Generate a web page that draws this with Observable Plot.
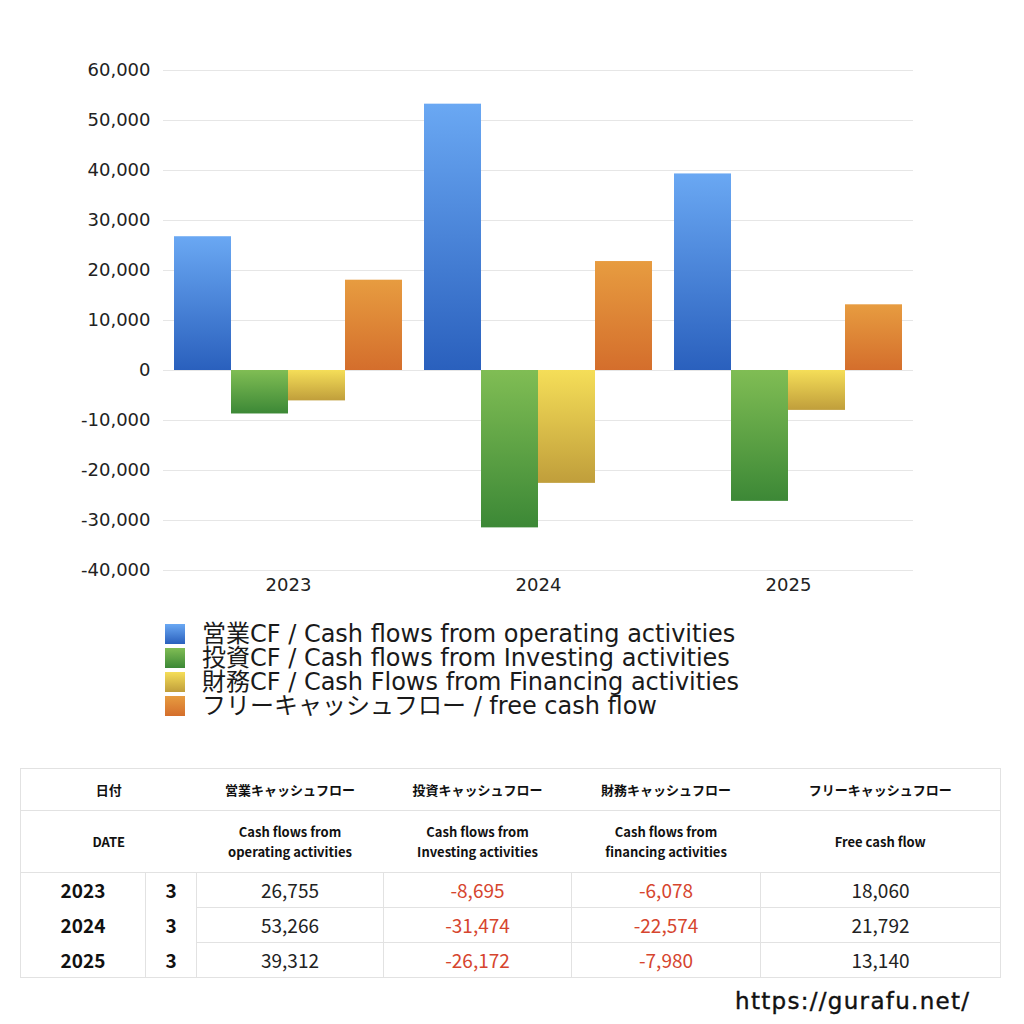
<!DOCTYPE html>
<html>
<head>
<meta charset="utf-8">
<script src="https://cdn.jsdelivr.net/npm/d3@7"></script>
<script src="https://cdn.jsdelivr.net/npm/@observablehq/plot@0.6"></script>
<style>
  html, body { margin: 0; padding: 0; background: #fff; }
  body { width: 1024px; height: 1024px; position: relative; overflow: hidden;
         font-family: "Noto Sans CJK JP", "Noto Sans", sans-serif; color: #222; }
  #chart { position: absolute; left: 0; top: 0; }
  #legend { position: absolute; left: 165px; top: 622px; }
  .lg-row { display: flex; align-items: center; height: 24px; font-size: 24px; line-height: 24px; color: #1a1a1a;
            font-family: "DejaVu Sans", "Noto Sans CJK JP", sans-serif; white-space: nowrap; }
  .lg-row span { display: inline-block; height: 24px; line-height: 24px; overflow: visible; }
  .lg-sw { width: 20px; height: 20px; margin-right: 17px; flex: none; }
  #tbl { position: absolute; left: 20px; top: 768px; width: 980px; border-collapse: collapse; table-layout: fixed;
         border: 1px solid #e2e2e2; }
  #tbl td { padding: 0; text-align: center; vertical-align: middle; }
  #tbl .h1 td { height: 41px; font-size: 13px; font-weight: bold; color: #111; border-bottom: 1px solid #e2e2e2; }
  #tbl .h2 td { height: 61px; font-size: 13px; font-weight: bold; color: #111; line-height: 20px; border-bottom: 1px solid #e2e2e2; }
  #tbl .d td { height: 34px; font-size: 19px; line-height: 20px; }
  #tbl .d td.yr { font-weight: bold; font-size: 19px; color: #111; }
  #tbl .d td.mo { font-weight: bold; font-size: 19px; color: #111; border-left: 1px solid #e2e2e2; }
  #tbl .d td.v { border-left: 1px solid #e2e2e2; color: #222; }
  #tbl .d td.neg { color: #d6452e; }
  #tbl .d.notlast td.v { border-bottom: 1px solid #e2e2e2; }
  #url { position: absolute; left: 735px; top: 988px; font-size: 23px; font-family: "DejaVu Sans", "Noto Sans", sans-serif; color: #111; letter-spacing: 1.3px; -webkit-text-stroke: 0.4px #111; }
</style>
</head>
<body>
<div id="chart"></div>
<div id="legend"></div>
<table id="tbl"></table>
<div id="url">https://gurafu.net/</div>
<script>
// ---- data ----
const years = ["2023", "2024", "2025"];
const months = ["3", "3", "3"];
const seriesKeys = ["operating", "investing", "financing", "free"];
const seriesLabels = [
  "営業CF / Cash flows from operating activities",
  "投資CF / Cash flows from Investing activities",
  "財務CF / Cash Flows from Financing activities",
  "フリーキャッシュフロー / free cash flow"
];
const operating = [26755, 53266, 39312];
const investing = [-8695, -31474, -26172];
const financing = [-6078, -22574, -7980];
const freeCF = [18060, 21792, 13140];
const yTicks = [-40000, -30000, -20000, -10000, 0, 10000, 20000, 30000, 40000, 50000, 60000];
const headerJa = ["日付", "営業キャッシュフロー", "投資キャッシュフロー", "財務キャッシュフロー", "フリーキャッシュフロー"];
const headerEn = ["DATE", "Cash flows from<br>operating activities", "Cash flows from<br>Investing activities", "Cash flows from<br>financing activities", "Free cash flow"];

// gradient stops per series (top, bottom)
const gradStops = {
  operating: ["#6aa8f3", "#2a60bd"],
  investing: ["#80bd54", "#3c8836"],
  financing: ["#f5de58", "#c09e3b"],
  free: ["#e79c40", "#d46e2c"]
};

const seriesValues = [operating, investing, financing, freeCF];
const data = [];
years.forEach((yr, i) => {
  seriesKeys.forEach((k, j) => data.push({year: yr, series: k, value: seriesValues[j][i]}));
});

const fmt = d => d.toLocaleString("en-US");

const plot = Plot.plot({
  width: 1024,
  height: 600,
  marginLeft: 163,
  marginRight: 111,
  marginTop: 70,
  marginBottom: 30,
  style: {fontSize: "18px", fontFamily: "'DejaVu Sans', 'Noto Sans', sans-serif", color: "#222", background: "transparent"},
  fx: {domain: years, padding: 0, label: null, axis: null},
  x: {domain: seriesKeys, paddingInner: 0, paddingOuter: 0.19, axis: null},
  y: {domain: [-40000, 60000], label: null},
  color: {domain: seriesKeys, range: seriesKeys.map(k => `url(#grad-${k})`)},
  marks: [
    Plot.gridY(yTicks, {stroke: "#e6e6e6", strokeOpacity: 1}),
    Plot.axisY(yTicks, {tickSize: 0, tickPadding: 13, tickFormat: fmt, label: null}),
    Plot.barY(data, {fx: "year", x: "series", y: "value", fill: "series"}),
    Plot.text(years, {fx: d => d, text: d => d, frameAnchor: "bottom", lineAnchor: "top", dy: 8, fontSize: 18, fill: "#222"})
  ]
});

// gradient defs
const svg = d3.select(plot);
const defs = svg.insert("defs", ":first-child");
seriesKeys.forEach(k => {
  const g = defs.append("linearGradient").attr("id", `grad-${k}`)
    .attr("x1", 0).attr("y1", 0).attr("x2", 0).attr("y2", 1);
  g.append("stop").attr("offset", "0%").attr("stop-color", gradStops[k][0]);
  g.append("stop").attr("offset", "100%").attr("stop-color", gradStops[k][1]);
});
document.getElementById("chart").appendChild(plot);

// legend
const legend = document.getElementById("legend");
seriesKeys.forEach((k, j) => {
  const row = document.createElement("div");
  row.className = "lg-row";
  const sw = document.createElement("div");
  sw.className = "lg-sw";
  sw.style.background = `linear-gradient(${gradStops[k][0]}, ${gradStops[k][1]})`;
  const t = document.createElement("span");
  t.textContent = seriesLabels[j];
  row.appendChild(sw); row.appendChild(t);
  legend.appendChild(row);
});

// table
const tbl = document.getElementById("tbl");
let html = `<colgroup><col style="width:125px"><col style="width:51px"><col style="width:187px"><col style="width:188px"><col style="width:189px"><col style="width:240px"></colgroup>`;
html += `<tr class="h1"><td colspan="2">${headerJa[0]}</td>` + headerJa.slice(1).map(h => `<td>${h}</td>`).join("") + `</tr>`;
html += `<tr class="h2"><td colspan="2">${headerEn[0]}</td>` + headerEn.slice(1).map(h => `<td>${h}</td>`).join("") + `</tr>`;
years.forEach((yr, i) => {
  const cls = i < years.length - 1 ? "d notlast" : "d";
  html += `<tr class="${cls}"><td class="yr">${yr}</td><td class="mo">${months[i]}</td>` +
    seriesValues.map(arr => `<td class="v${arr[i] < 0 ? " neg" : ""}">${fmt(arr[i])}</td>`).join("") + `</tr>`;
});
tbl.innerHTML = html;
</script>
</body>
</html>
